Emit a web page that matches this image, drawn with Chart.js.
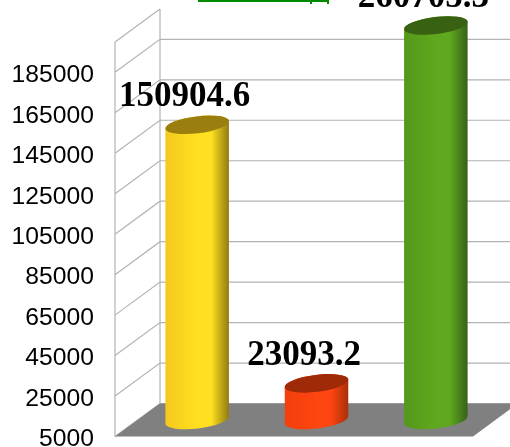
<!DOCTYPE html>
<html>
<head>
<meta charset="utf-8">
<style>
  html, body { margin: 0; padding: 0; background: #fff; overflow: hidden; }
  canvas { display: block; }
</style>
<script src="https://cdn.jsdelivr.net/npm/chart.js@4/dist/chart.umd.min.js"></script>
</head>
<body>
<canvas id="chart" width="510" height="447"></canvas>
<script>
const categories = ['A', 'B', 'C'];
const values = [150904.6, 23093.2, 260705.3];
const axisMin = 5000;
const axisMax = 200000;
const tickValues = [5000, 25000, 45000, 65000, 85000, 105000, 125000, 145000, 165000, 185000];

const barColors = ['#ffe020', '#ff4510', '#60a81e'];
const edgeColors = ['#f4c81e', '#f23f0c', '#54981a'];
const shadeColors = ['#8f7a10', '#a83008', '#36601a'];
const capColors = ['#9a7f10', '#9f2a08', '#386212'];

// how far the back wall sits from the front of the box
const depthX = 45;
const depthY = -33;
const gridColor = '#b3b3b3';

const box3d = {
    id: 'box3d',
    beforeDatasetsDraw(chart) {
        const { ctx, chartArea: area, scales: { y } } = chart;
        const bottom = y.getPixelForValue(axisMin);
        const top = y.getPixelForValue(axisMax);

        ctx.save();
        ctx.strokeStyle = gridColor;
        ctx.lineWidth = 1.2;
        ctx.beginPath();
        y.ticks.forEach((tick) => {
            const py = y.getPixelForValue(tick.value);
            ctx.moveTo(area.left, py);
            ctx.lineTo(area.left + depthX, py + depthY);
            ctx.lineTo(area.right + depthX, py + depthY);
        });
        ctx.moveTo(area.left, top);
        ctx.lineTo(area.left + depthX, top + depthY);
        ctx.moveTo(area.left, top);
        ctx.lineTo(area.left, bottom);
        ctx.moveTo(area.left + depthX, top + depthY);
        ctx.lineTo(area.left + depthX, bottom + depthY);
        ctx.stroke();

        ctx.fillStyle = '#808080';
        ctx.beginPath();
        ctx.moveTo(area.left, bottom);
        ctx.lineTo(area.right, bottom);
        ctx.lineTo(area.right + depthX, bottom + depthY);
        ctx.lineTo(area.left + depthX, bottom + depthY);
        ctx.closePath();
        ctx.fill();
        ctx.restore();
    },
    // the cylinders replace the flat bars
    beforeDatasetDraw(chart, args) {
        const { ctx, chartArea: area } = chart;
        const rot = -7 * Math.PI / 180;
        args.meta.data.forEach((bar, i) => {
            const rx = bar.width / 2;
            const ry = 8.5;
            const cx = bar.x + depthX / 2;
            const topY = Math.max(bar.y, area.top) + depthY / 2;
            const baseY = bar.base + depthY / 2;
            const grad = ctx.createLinearGradient(cx - rx, 0, cx + rx, 0);
            grad.addColorStop(0, edgeColors[i]);
            grad.addColorStop(0.5, barColors[i]);
            grad.addColorStop(0.72, barColors[i]);
            grad.addColorStop(1, shadeColors[i]);

            ctx.save();
            ctx.fillStyle = grad;
            ctx.beginPath();
            ctx.ellipse(cx, baseY, rx, ry, rot, 0, Math.PI);
            ctx.ellipse(cx, topY, rx, ry, rot, Math.PI, Math.PI * 2);
            ctx.closePath();
            ctx.fill();
            ctx.fillStyle = capColors[i];
            ctx.beginPath();
            ctx.ellipse(cx, topY, rx, ry, rot, 0, Math.PI * 2);
            ctx.fill();
            ctx.restore();
        });
        return false;
    },
    afterDatasetsDraw(chart) {
        const { ctx, chartArea: area } = chart;
        const meta = chart.getDatasetMeta(0);

        ctx.save();
        ctx.fillStyle = '#000';
        ctx.font = 'bold 35px "Liberation Serif"';
        ctx.textAlign = 'center';
        ctx.textBaseline = 'alphabetic';
        meta.data.forEach((bar, i) => {
            const py = Math.max(bar.y, area.top);
            ctx.fillText(values[i].toFixed(1), bar.x + 10, py - 35);
        });

        // bit of green bracket cut off by the top edge
        ctx.strokeStyle = '#008a00';
        ctx.lineWidth = 2;
        ctx.beginPath();
        ctx.moveTo(198, 1);
        ctx.lineTo(329, 1);
        ctx.moveTo(311, 1);
        ctx.lineTo(311, 4);
        ctx.moveTo(328, 1);
        ctx.lineTo(328, 4);
        ctx.stroke();
        ctx.restore();
    },
};

new Chart('chart', {
    type: 'bar',
    data: {
        labels: categories,
        datasets: [{
            data: values,
            base: axisMin,
            backgroundColor: barColors,
            barThickness: 64,
        }],
    },
    options: {
        responsive: false,
        animation: false,
        layout: {
            padding: { top: 42, right: 37, bottom: 10.5, left: 0 },
        },
        plugins: {
            legend: { display: false },
            tooltip: { enabled: false },
        },
        scales: {
            x: { display: false },
            y: {
                min: axisMin,
                max: axisMax,
                afterBuildTicks(scale) {
                    scale.ticks = tickValues.map((value) => ({ value }));
                },
                afterFit(scale) {
                    scale.width = 115;
                    scale.paddingTop = 0;
                    scale.paddingBottom = 0;
                },
                grid: { display: false, drawTicks: false },
                border: { display: false },
                ticks: {
                    autoSkip: false,
                    padding: 21,
                    labelOffset: 3,
                    color: '#000',
                    font: { family: '"Liberation Sans"', size: 24.7 },
                    callback: (value) => String(value),
                },
            },
        },
    },
    plugins: [box3d],
});
</script>
</body>
</html>
